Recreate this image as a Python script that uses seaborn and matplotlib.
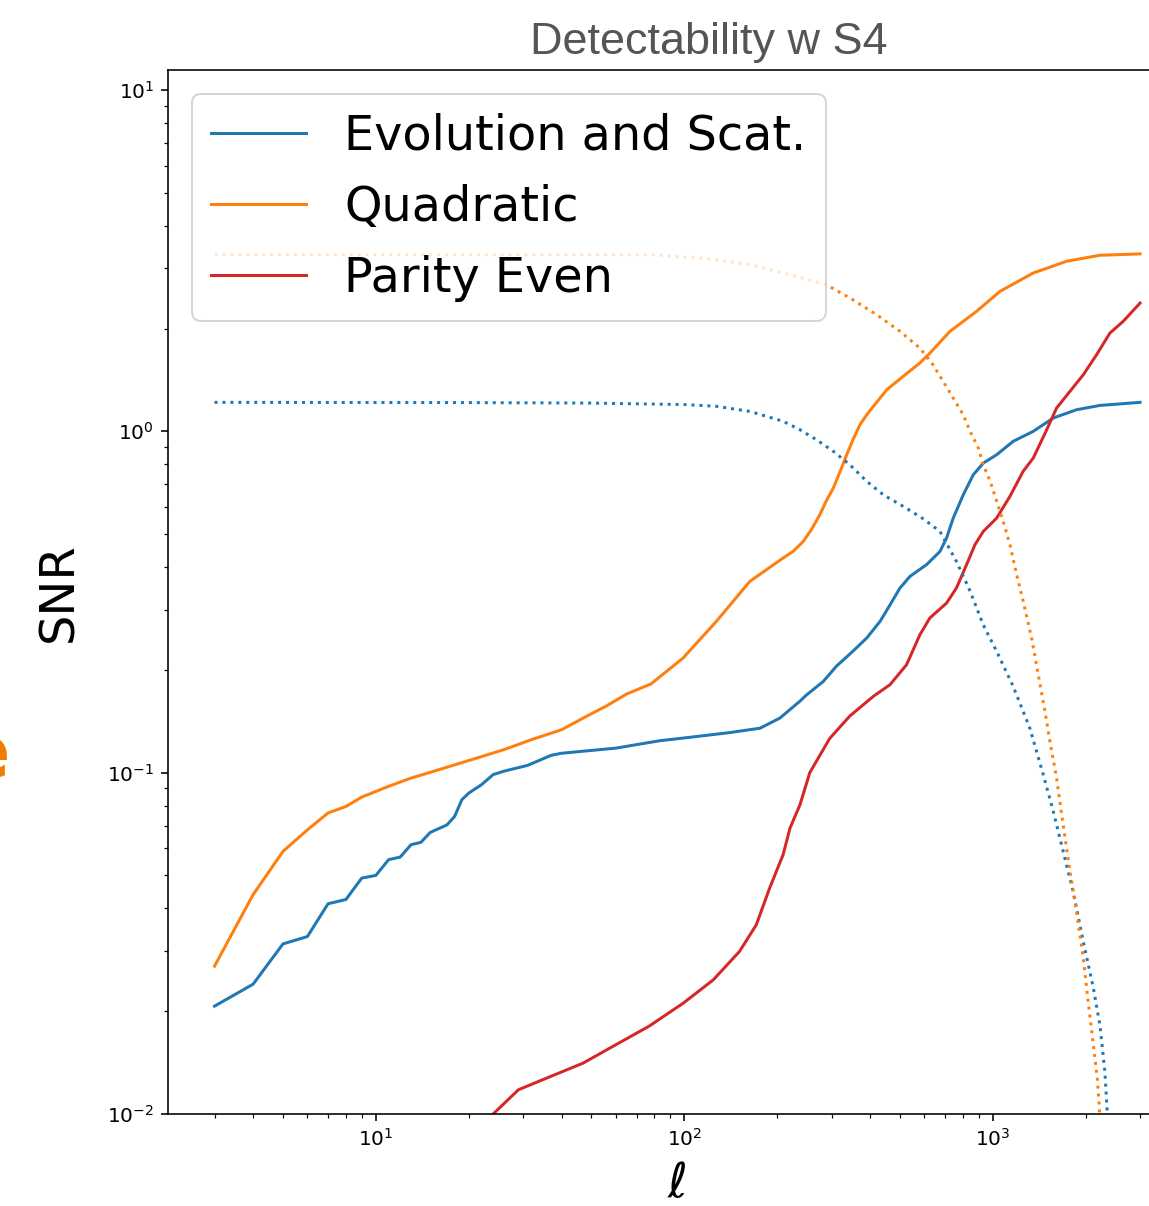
import matplotlib
matplotlib.use("Agg")
import matplotlib.pyplot as plt
import seaborn as sns

# ---------------- data ----------------
ell_evo = [3, 4, 5, 6, 7, 8, 9, 10, 11, 12, 13, 14, 15, 17, 18, 19, 20, 22, 24, 26,
           31, 37, 40, 60, 83, 100, 140, 176, 204, 237, 249, 282, 311, 352, 390, 431,
           464, 500, 539, 610, 674, 708, 744, 802, 864, 931, 1029, 1164, 1352, 1570,
           1868, 2223, 3000]
snr_evo = [0.0207, 0.024, 0.0315, 0.0331, 0.0413, 0.0425, 0.0491, 0.050, 0.0556, 0.0566,
           0.0615, 0.0625, 0.0668, 0.0703, 0.0744, 0.0833, 0.0871, 0.0922, 0.0987, 0.101,
           0.105, 0.1124, 0.114, 0.118, 0.124, 0.1264, 0.131, 0.135, 0.1445, 0.162,
           0.169, 0.185, 0.205, 0.227, 0.248, 0.2775, 0.310, 0.3475, 0.376, 0.407,
           0.445, 0.487, 0.557, 0.652, 0.746, 0.807, 0.854, 0.935, 1.0, 1.094,
           1.157, 1.191, 1.216]

ell_quad = [3, 4, 5, 6, 7, 8, 9, 11, 13, 16, 21, 26, 32, 40, 48, 56, 65, 78, 99, 127,
            163, 209, 225, 243, 258, 275, 288, 304, 320, 336, 352, 371, 390, 410, 453,
            512, 580, 625, 726, 886, 1054, 1352, 1735, 2223, 3000]
snr_quad = [0.0271, 0.0439, 0.0588, 0.068, 0.0762, 0.0796, 0.0848, 0.0912, 0.0964, 0.102,
            0.110, 0.1168, 0.125, 0.1336, 0.146, 0.157, 0.170, 0.182, 0.2166, 0.2775,
            0.3634, 0.4255, 0.4447, 0.476, 0.515, 0.570, 0.624, 0.682, 0.764, 0.854,
            0.945, 1.046, 1.118, 1.184, 1.324, 1.449, 1.586, 1.695, 1.963, 2.248,
            2.57, 2.91, 3.15, 3.28, 3.31]

ell_par = [20, 24, 29, 37, 47, 60, 77, 99, 124, 151, 171, 189, 209, 220, 237, 255, 296,
           344, 410, 464, 525, 580, 625, 708, 762, 822, 875, 931, 1029, 1136, 1254, 1352,
           1494, 1609, 1778, 1964, 2169, 2395, 2645, 3000]
snr_par = [0.0075, 0.0100, 0.01178, 0.0129, 0.0141, 0.01596, 0.0181, 0.0211, 0.0247,
           0.02995, 0.0358, 0.0459, 0.0575, 0.0688, 0.0805, 0.100, 0.126, 0.1466, 0.1674,
           0.181, 0.207, 0.2535, 0.284, 0.314, 0.3475, 0.407, 0.4656, 0.509, 0.557,
           0.645, 0.764, 0.835, 1.01, 1.17, 1.31, 1.465, 1.677, 1.94, 2.10, 2.376]

ell_evo_rest = [3, 20, 50, 100, 127, 163, 209, 237, 268, 304, 344, 390, 441, 512, 590,
                674, 762, 844, 931, 1029, 1164, 1318, 1457, 1570, 1690, 1820, 1964, 2117,
                2223, 2307, 2346, 2400]
snr_evo_rest = [1.216, 1.214, 1.21, 1.198, 1.184, 1.144, 1.07, 1.011, 0.945, 0.874, 0.798,
                0.714, 0.652, 0.603, 0.557, 0.509, 0.416, 0.34, 0.271, 0.2266, 0.179,
                0.135, 0.0986, 0.077, 0.0588, 0.0449, 0.032, 0.0234, 0.01825, 0.01333,
                0.01028, 0.006]

ell_quad_rest = [3, 50, 78, 112, 163, 209, 288, 344, 420, 500, 580, 640, 690, 744, 802,
                 844, 897, 931, 980, 1029, 1080, 1136, 1195, 1254, 1335, 1404, 1476, 1531,
                 1609, 1690, 1778, 1868, 1964, 2036, 2117, 2180, 2213, 2280]
snr_quad_rest = [3.30, 3.29, 3.29, 3.22, 3.08, 2.91, 2.69, 2.46, 2.196, 1.963, 1.754,
                 1.567, 1.401, 1.252, 1.118, 1.0, 0.894, 0.798, 0.714, 0.624, 0.545,
                 0.4656, 0.38, 0.318, 0.248, 0.1935, 0.151, 0.1235, 0.0964, 0.0704,
                 0.0514, 0.0392, 0.0286, 0.0214, 0.01595, 0.01274, 0.01052, 0.006]

labels = ["Evolution and Scat.", "Quadratic", "Parity Even"]
title_text = "Detectability w S4"

# ---------------- figure ----------------
W, H, DPI = 1149, 1206, 144
fig = plt.figure(figsize=(W / DPI, H / DPI), dpi=DPI)
ax = fig.add_axes([168 / W, (H - 1114) / H, 1018.4 / W, 1044 / H])

blue, orange, red = "tab:blue", "tab:orange", "tab:red"

sns.lineplot(x=ell_evo, y=snr_evo, ax=ax, color=blue, label=labels[0],
             estimator=None, sort=False, linewidth=1.5)
sns.lineplot(x=ell_quad, y=snr_quad, ax=ax, color=orange, label=labels[1],
             estimator=None, sort=False, linewidth=1.5)
sns.lineplot(x=ell_par, y=snr_par, ax=ax, color=red, label=labels[2],
             estimator=None, sort=False, linewidth=1.5)
sns.lineplot(x=ell_evo_rest, y=snr_evo_rest, ax=ax, color=blue, linestyle=":",
             estimator=None, sort=False, linewidth=1.5)
sns.lineplot(x=ell_quad_rest, y=snr_quad_rest, ax=ax, color=orange, linestyle=":",
             estimator=None, sort=False, linewidth=1.5)

ax.set_xscale("log")
ax.set_yscale("log")
ax.set_xlim(2.12, 4240)
ax.set_ylim(0.01, 11.445)

ax.set_xlabel(r"$\ell$", fontsize=24, labelpad=5)
ax.set_ylabel("SNR", fontsize=24, labelpad=12.5)

handles, labs = ax.get_legend_handles_labels()
ax.legend(handles[:3], labs[:3], loc="upper left", fontsize=23.85)

fig.text(709 / W, 1 - 54 / H, title_text, ha="center", va="baseline",
         fontsize=22.5, color="#555555", family="Liberation Sans")
fig.text(10 / W, 1 - 778 / H, "e", ha="right", va="baseline", fontsize=38,
         fontweight="bold", color="#f07d00")

fig.savefig("out.png", dpi=DPI)
